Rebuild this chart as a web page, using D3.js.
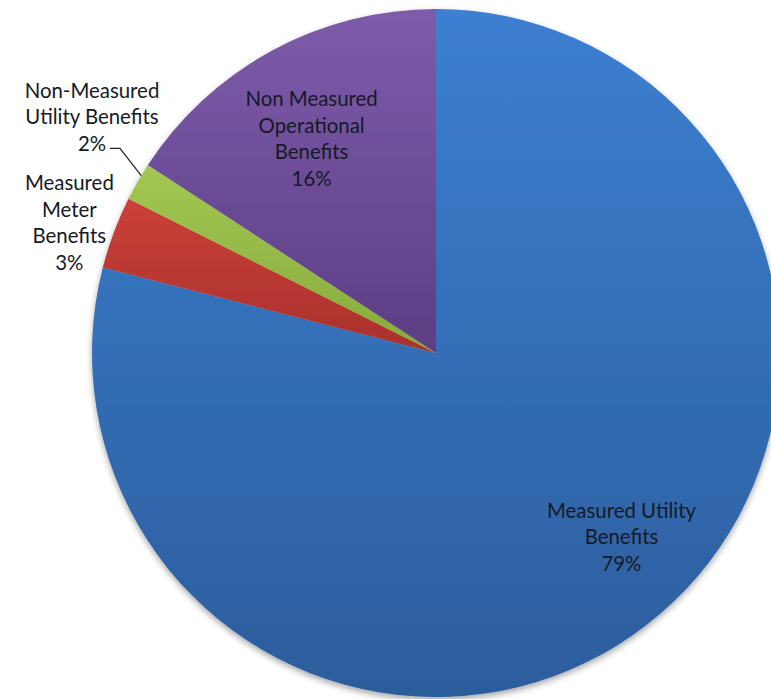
<!DOCTYPE html>
<html>
<head>
<meta charset="utf-8">
<script src="https://cdn.jsdelivr.net/npm/d3@7"></script>
<style>
  html, body { margin: 0; padding: 0; background: #fff; }
  svg { display: block; }
</style>
</head>
<body>
<svg id="chart"></svg>
<script>
// slice data, clockwise from 12 o'clock
const categories = ["Measured Utility Benefits", "Measured Meter Benefits", "Non-Measured Utility Benefits", "Non Measured Operational Benefits"];
const values = [79.0, 3.4, 1.8, 15.8];
const labelLines = [
    ["Measured Utility", "Benefits"],
    ["Measured", "Meter", "Benefits"],
    ["Non-Measured", "Utility Benefits"],
    ["Non Measured", "Operational", "Benefits"]
];
const colors = [
    ["#3c7fd1", "#2c5d9c"],
    ["#cc4039", "#a8302b"],
    ["#a2c752", "#86ab3c"],
    ["#7e5bab", "#5c3e84"]
];

const width = 771;
const height = 699;
const cx = 436;
const cy = 353;
const radius = 344;
const fontSize = 20.4;
const lineH = 26.5;

// label placement: radius factor + angle nudge (radians) per slice
const labelPos = [
    { r: 0.76, da: -0.129 },
    { r: 1.131, da: -0.017 },
    { r: 1.213, da: 0.08 },
    { r: 0.72, da: -0.03 }
];

const svg = d3.select("#chart")
    .attr("width", width)
    .attr("height", height);

const defs = svg.append("defs");

const shadow = defs.append("filter")
    .attr("id", "shadow")
    .attr("x", "-10%").attr("y", "-10%")
    .attr("width", "120%").attr("height", "120%");
shadow.append("feDropShadow")
    .attr("dx", 0).attr("dy", 3)
    .attr("stdDeviation", 3)
    .attr("flood-color", "#000")
    .attr("flood-opacity", 0.35);

colors.forEach((c, i) => {
    const g = defs.append("linearGradient")
        .attr("id", "grad" + i)
        .attr("x1", 0).attr("y1", 0)
        .attr("x2", 0).attr("y2", 1);
    g.append("stop").attr("offset", "0%").attr("stop-color", c[0]);
    g.append("stop").attr("offset", "100%").attr("stop-color", c[1]);
});

const data = categories.map((name, i) => ({ name, value: values[i], i }));

const pie = d3.pie()
    .sort(null)
    .value(d => d.value);

const arcs = pie(data);

const arc = d3.arc()
    .innerRadius(0)
    .outerRadius(radius);

const g = svg.append("g")
    .attr("transform", `translate(${cx},${cy})`);

g.append("g")
    .attr("filter", "url(#shadow)")
    .selectAll("path")
    .data(arcs)
    .enter()
    .append("path")
    .attr("d", arc)
    .attr("fill", d => `url(#grad${d.data.i})`);

const total = d3.sum(values);

// labels
arcs.forEach((d, i) => {
    const lp = labelPos[i];
    const mid = (d.startAngle + d.endAngle) / 2 + lp.da;
    const r = radius * lp.r;
    const x = Math.sin(mid) * r;
    const y = -Math.cos(mid) * r;
    const lines = labelLines[i].concat([Math.round(d.data.value / total * 100) + "%"]);
    const t = g.append("text")
        .attr("text-anchor", "middle")
        .attr("font-family", "Lato, 'Open Sans', sans-serif")
        .attr("font-size", fontSize)
        .attr("fill", "#151a26");
    lines.forEach((s, k) => {
        t.append("tspan")
            .attr("x", x)
            .attr("y", y + (k - (lines.length - 1) / 2) * lineH)
            .attr("dy", "0.35em")
            .text(s);
    });
    d.labelX = x;
    d.labelY = y;
    d.labelLines = lines.length;
});

// leader line for the small green slice
const green = arcs[2];
const gMid = (green.startAngle + green.endAngle) / 2 + 0.02;
const edgeX = Math.sin(gMid) * radius;
const edgeY = -Math.cos(gMid) * radius;
const lastY = green.labelY + ((green.labelLines - 1) / 2) * lineH + 5;
const lineStartX = green.labelX + 18;
g.append("path")
    .attr("d", d3.line()([[lineStartX, lastY], [lineStartX + 10, lastY], [edgeX, edgeY]]))
    .attr("fill", "none")
    .attr("stroke", "#222")
    .attr("stroke-width", 1.2);
</script>
</body>
</html>
